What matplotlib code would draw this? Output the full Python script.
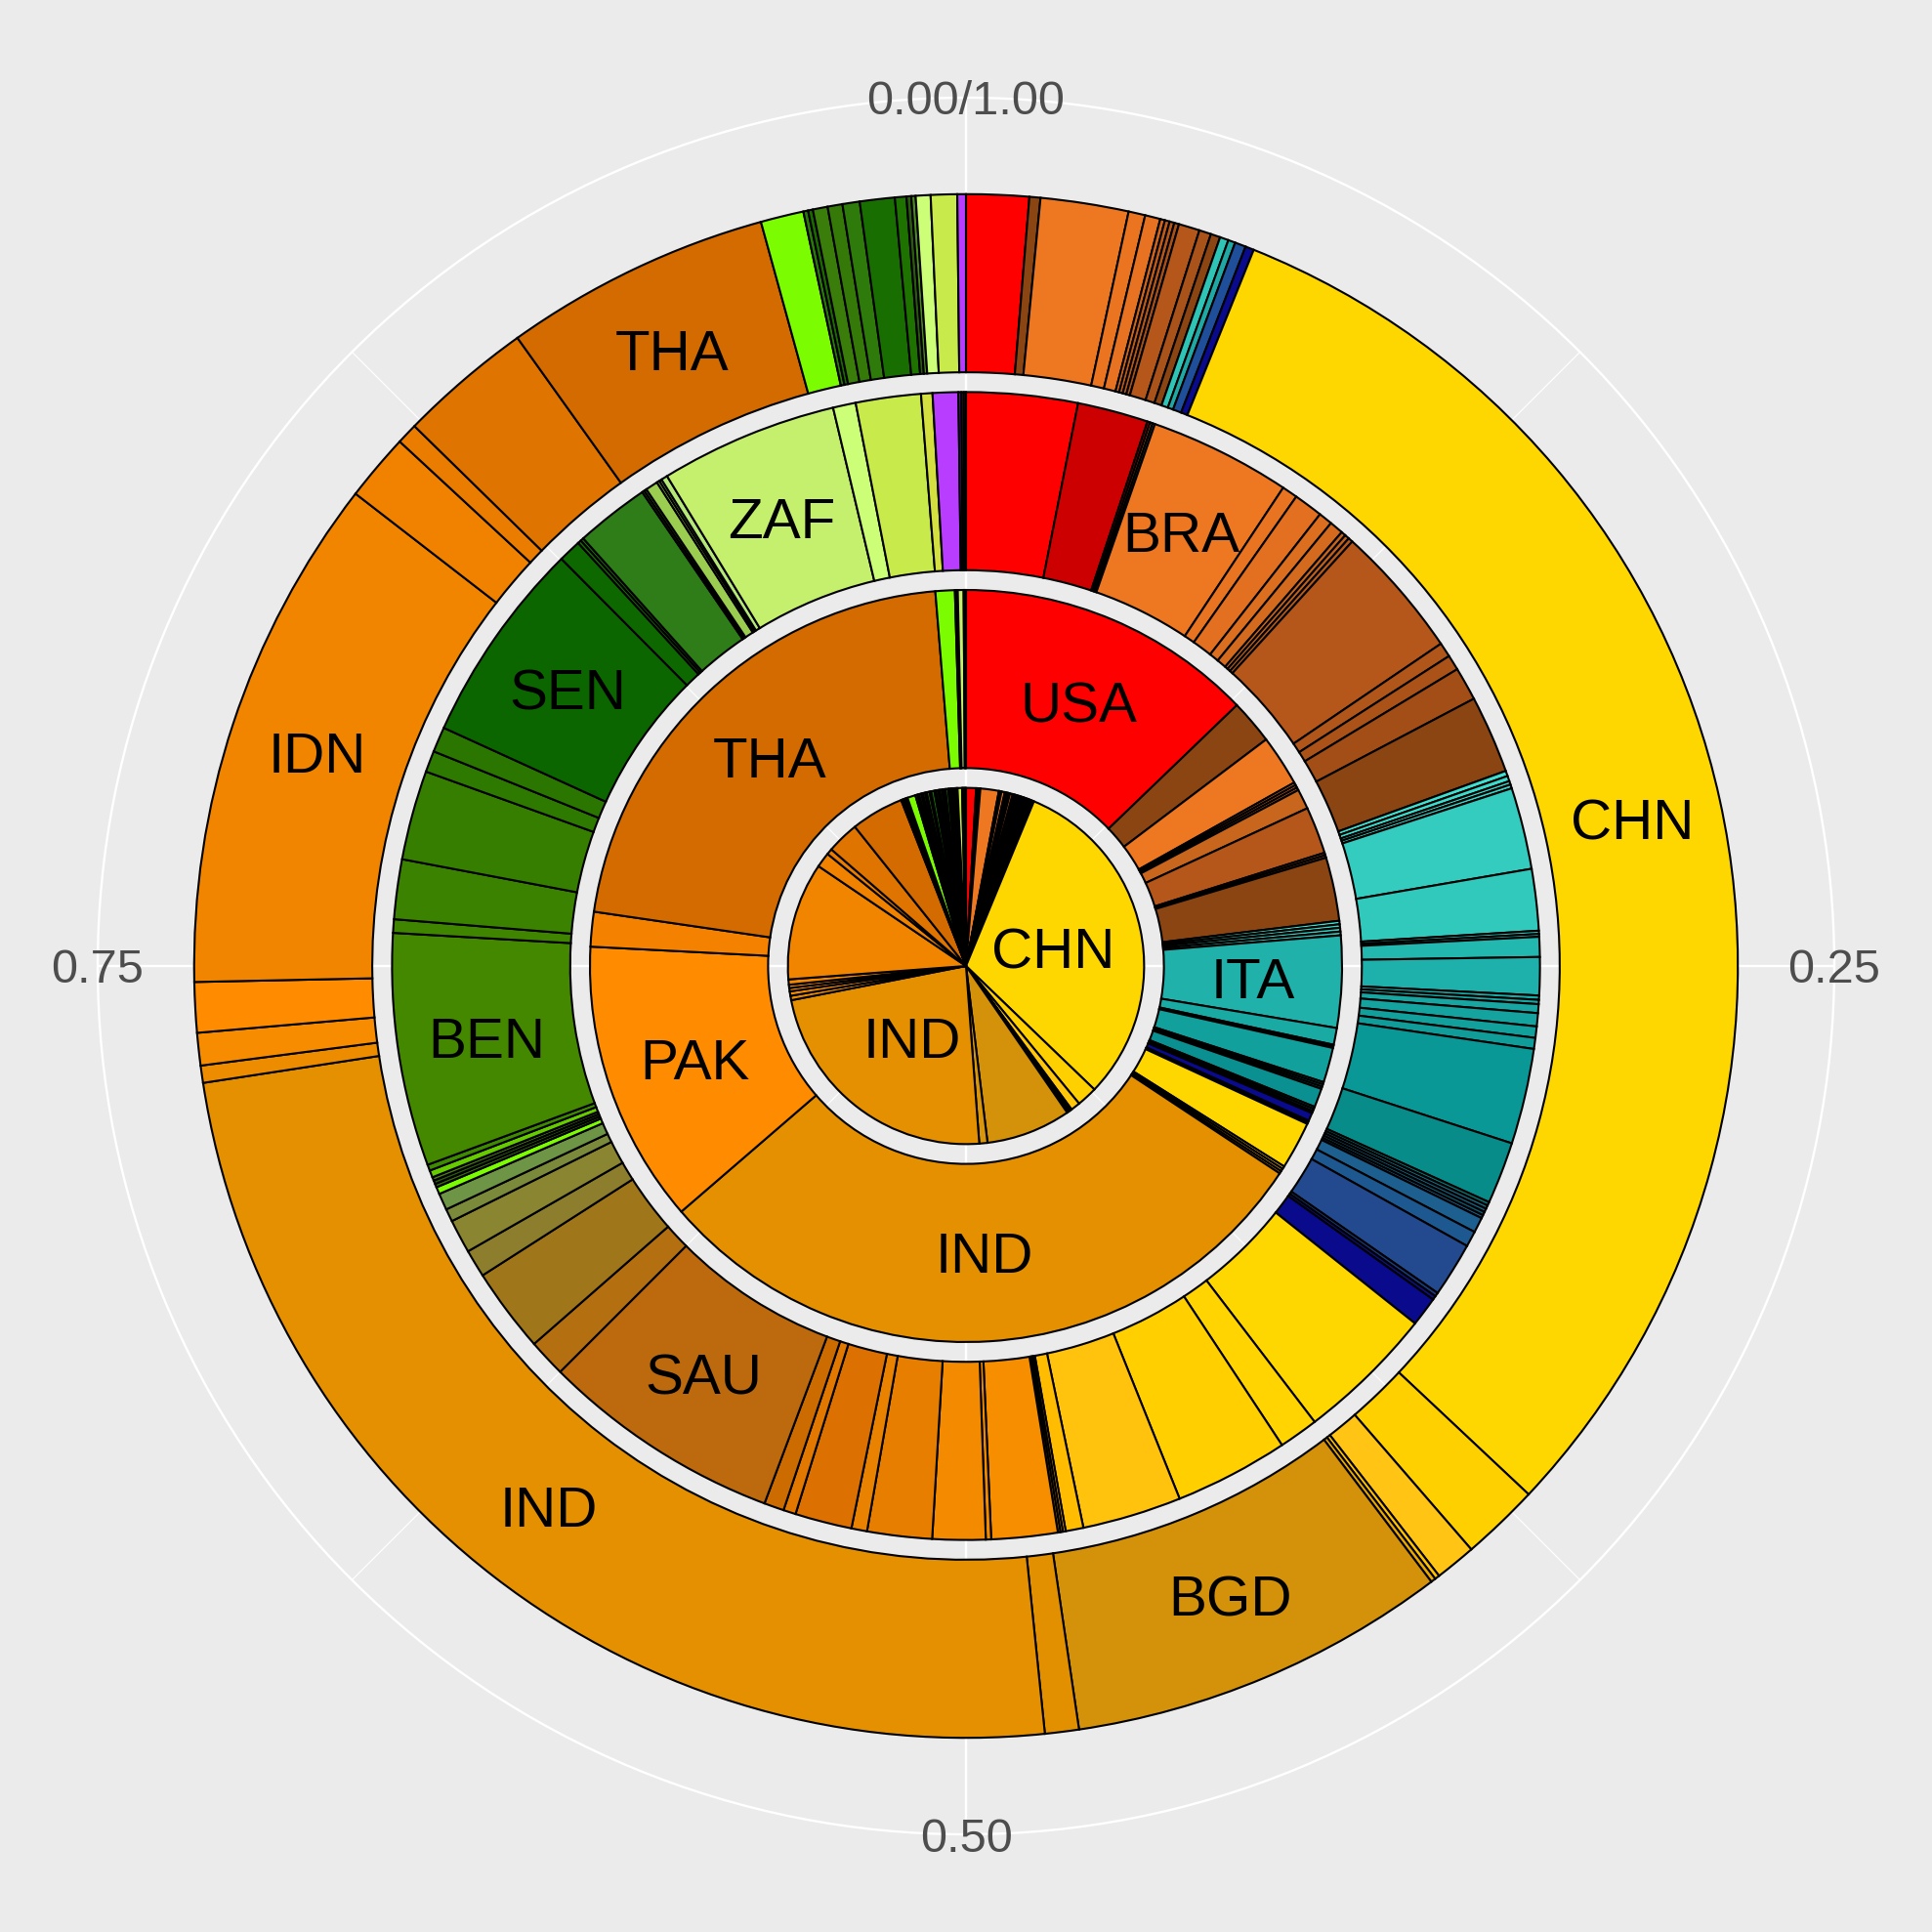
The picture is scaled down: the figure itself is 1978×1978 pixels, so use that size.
import numpy as np
import matplotlib
matplotlib.use("Agg")
import matplotlib.pyplot as plt

# ---------------------------------------------------------------- data
tick_values = [0.0, 0.25, 0.50, 0.75]
tick_labels = ["0.00/1.00", "0.25", "0.50", "0.75"]
minor_tick_values = [0.125, 0.375, 0.625, 0.875]

# ring 1 : centre pie
pie_share = [
    0.0091, 0.0013, 0.0012, 0.0013, 0.0167,
    0.0012, 0.0012, 0.0030, 0.0012, 0.0012, 0.0012, 0.0012, 0.0025,
    0.0012, 0.0012, 0.0012, 0.0012, 0.0012, 0.0012, 0.0012,
    0.0012, 0.0012, 0.0012, 0.0012, 0.0012, 0.0012, 0.0012,
    0.0016, 0.0016,
    0.3096, 0.0186, 0.0085, 0.0013, 0.0012, 0.0012, 0.0012,
    0.0768, 0.0074, 0.2311,
    0.0040, 0.0040, 0.0030, 0.0030, 0.0048,
    0.1067, 0.0136, 0.0053, 0.0292, 0.0479,
    0.0015, 0.0015, 0.0015, 0.0015, 0.0074,
    0.0020, 0.0015, 0.0020, 0.0015, 0.0020, 0.0015, 0.0025, 0.0015, 0.0030, 0.0015,
    0.0020, 0.0015, 0.0020, 0.0015, 0.0015, 0.0025, 0.0015, 0.0015, 0.0015, 0.0014,
    0.0012, 0.0012, 0.0041, 0.0012, 0.0012, 0.0011,
]
pie_color = [
    "#FF0000", "#CC0000", "#8B0000", "#8B4513", "#EE7722",
    "#D06020", "#C05A18", "#E87020", "#B5571A", "#A85018", "#9A4A16", "#8B4513", "#C06020",
    "#40E0D0", "#33CCBF", "#20B2AA", "#1AA8A2", "#12A09C", "#0A9896", "#088C8A",
    "#1D5F8F", "#234A8F", "#0A0A8C", "#1E5890", "#0A9090", "#18A8A3", "#0E9C98",
    "#2EC4B6", "#0A8F8C",
    "#FFD700", "#FFD000", "#FFC60A", "#FFC000", "#FFB800", "#F0A800", "#E0A000",
    "#D4920A", "#DA960A", "#E59000",
    "#EE8C00", "#F88C00", "#FF8C00", "#F68800", "#F48600",
    "#F28500", "#F08200", "#EA7C00", "#E07400", "#D46B00",
    "#B06010", "#806020", "#405A10", "#2A5A10", "#7CFC00",
    "#3A7D0A", "#357A08", "#2E7A0A", "#448800", "#3F8500", "#3A8200", "#357E00", "#0B6600", "#167000", "#2E7D18",
    "#0D6800", "#2A7600", "#1E7200", "#6E9445", "#8C7E2C", "#1A6A00", "#0B6600", "#2E7D18", "#9ACD50", "#1A6A00",
    "#9ACD50", "#80B040", "#C8EB4B", "#CCFF77", "#B83DFF", "#D4E040",
]
pie_labels = {29: "CHN", 38: "IND"}

# ring 2
ring2_share = [
    0.1280, 0.0191, 0.0218,
    0.0012, 0.0012, 0.0012, 0.0086,
    0.0202, 0.0011, 0.0011, 0.0273,
    0.0015, 0.0015, 0.0016, 0.0016,
    0.0394, 0.0072, 0.0007, 0.0007, 0.0150,
    0.0010, 0.0010, 0.0010, 0.0081,
    0.0010, 0.0010, 0.0009, 0.0035,
    0.0008, 0.0007, 0.0205,
    0.0012, 0.0012, 0.0011,
    0.2937, 0.1215, 0.0149, 0.2139,
    0.0083, 0.0006, 0.0006, 0.0025, 0.0005, 0.0005,
]
ring2_color = [
    "#FF0000", "#8B4513", "#EE7722",
    "#E06A20", "#D06020", "#C85C1C", "#C9661E",
    "#B5571A", "#A04E16", "#964A15", "#8B4513",
    "#40E0D0", "#38D8C8", "#33CCBF", "#2EC4B6",
    "#20B2AA", "#1AAAA4", "#16A4A0", "#14A29E", "#12A09C",
    "#0E9894", "#0A9490", "#0A9290", "#0A9090",
    "#087878", "#1D5F8F", "#234A8F", "#0A0A8C",
    "#101060", "#FFD000", "#FFD700",
    "#FFC000", "#D4920A", "#E08C00",
    "#E59000", "#FF8C00", "#F48200", "#D46B00",
    "#7CFC00", "#2A7A0A", "#0B6600", "#C8F06E", "#333333", "#B83DFF",
]
ring2_labels = {0: "USA", 15: "ITA", 34: "IND", 35: "PAK", 37: "THA"}

# ring 3
ring3_share = [
    0.0313, 0.0199, 0.0008, 0.0007, 0.0007,
    0.0398, 0.0044, 0.0082, 0.0039, 0.0039, 0.0013, 0.0013, 0.0013,
    0.0376, 0.0041, 0.0043, 0.0094, 0.0219,
    0.0015, 0.0015, 0.0010, 0.0011, 0.0230, 0.0173, 0.0009, 0.0008,
    0.0056, 0.0107, 0.0012, 0.0012, 0.0025, 0.0037, 0.0032, 0.0031,
    0.0269, 0.0175, 0.0010, 0.0010, 0.0010, 0.0010, 0.0009,
    0.0043, 0.0044, 0.0154, 0.0011, 0.0011, 0.0083,
    0.0391, 0.0111, 0.0321, 0.0279, 0.0050, 0.0008, 0.0007, 0.0007,
    0.0186, 0.0015, 0.0149, 0.0182, 0.0044, 0.0160, 0.0035, 0.0056,
    0.0679, 0.0106, 0.0238, 0.0078, 0.0095, 0.0036, 0.0047,
    0.0020, 0.0010, 0.0010, 0.0010, 0.0020, 0.0017,
    0.0655, 0.0038, 0.0168, 0.0252, 0.0060, 0.0071,
    0.0574, 0.0064, 0.0010, 0.0009, 0.0208, 0.0007, 0.0007, 0.0035, 0.0008, 0.0007, 0.0018,
    0.0500, 0.0064, 0.0183, 0.0032, 0.0072, 0.0008, 0.0007, 0.0006,
]
ring3_color = [
    "#FF0000", "#CC0000", "#8B0000", "#EE7722", "#444444",
    "#EE7722", "#E87422", "#E27020", "#DC6E20", "#D46A1E", "#C8641C", "#C0601C", "#B85A1A",
    "#B5571A", "#B0561A", "#AA5218", "#A24E16", "#8B4513",
    "#40E0D0", "#3CDCCC", "#38D8C8", "#36D2C4", "#33CCBF", "#31C9BC", "#2AC0B5", "#26BCB2",
    "#22B8B0", "#1EB0AA", "#1AACA6", "#18A8A3", "#17A6A1", "#15A3A0", "#12A09C", "#109C98",
    "#0A9896", "#088C8A", "#087878", "#1A6A80", "#166080", "#0E5A70", "#1D5F8F",
    "#1D5F8F", "#1E5890", "#234A8F", "#1A3A80", "#101080", "#0A0A8C",
    "#FFD700", "#FFD400", "#FFCF00", "#FFC30D", "#FFBC00", "#F0A000", "#E89000", "#E08800",
    "#F68E00", "#F08800", "#F38A00", "#E87E00", "#E88200", "#DC7000", "#E27800", "#CC6C00",
    "#BD6A0E", "#B47010", "#A0761A", "#8C7E2C", "#898530", "#7A8A3A", "#6E9445",
    "#7CFC00", "#3A6A10", "#2A5A0A", "#4A7A1A", "#66CC00", "#3E8A00",
    "#448800", "#3F8500", "#3A8200", "#357E00", "#2E7A00", "#2A7600",
    "#0B6600", "#0D6800", "#1A6E08", "#226F10", "#2E7D18", "#2A5A10", "#4A8A20", "#9ACD50", "#80B040", "#A0D060", "#B5E878",
    "#C4F06E", "#CCFF77", "#C8EB4B", "#D4E040", "#B83DFF", "#7A20B0", "#333333", "#FF0000",
]
ring3_labels = {5: "BRA", 63: "SAU", 76: "BEN", 82: "SEN", 93: "ZAF"}

# ring 4 : outer
ring4_share = [
    0.0131, 0.0023, 0.0184, 0.0035, 0.0032,
    0.0010, 0.0010, 0.0010, 0.0010,
    0.0044, 0.0025, 0.0020, 0.0018, 0.0015, 0.0023, 0.0018,
    0.3092, 0.0164, 0.0086, 0.0010, 0.0010,
    0.0796, 0.0071, 0.2421, 0.0036, 0.0068, 0.0105,
    0.1081, 0.0141, 0.0044, 0.0280, 0.0559,
    0.0090, 0.0010, 0.0010, 0.0031, 0.0031, 0.0036, 0.0073, 0.0024,
    0.0010, 0.0009, 0.0031, 0.0055, 0.0018,
]
ring4_color = [
    "#FF0000", "#8B4513", "#EE7722", "#EA7420", "#E67222",
    "#D0641C", "#C05A18", "#B5571A", "#A85018",
    "#B5571A", "#A9521A", "#8B4513", "#2EC4B6", "#1FA8A4", "#1F4E9A", "#0A0A8C",
    "#FFD700", "#FFD000", "#FFC414", "#FFC000", "#E8A800",
    "#D4920A", "#E29000", "#E59000", "#EE8C00", "#F88C00", "#FF8C00",
    "#F28500", "#F08200", "#EA7C00", "#E07400", "#D46B00",
    "#7CFC00", "#2A7A0A", "#1A6A00", "#3A7D0A", "#357A08", "#2E7A0A", "#186E00", "#1E7200",
    "#2A5A10", "#4A8A20", "#CCFF77", "#C8EB4B", "#B83DFF",
]
ring4_labels = {16: "CHN", 21: "BGD", 23: "IND", 27: "IDN", 31: "THA"}

rings = [
    (pie_share, pie_color, pie_labels),
    (ring2_share, ring2_color, ring2_labels),
    (ring3_share, ring3_color, ring3_labels),
    (ring4_share, ring4_color, ring4_labels),
]

# ---------------------------------------------------------------- style
BG = "#EBEBEB"
RING_HEIGHT = 0.9
R_OUTER = 3.9
R_PANEL = R_OUTER * 0.45 / 0.4
FONT = ["Liberation Sans", "DejaVu Sans"]

fig = plt.figure(figsize=(19.78, 19.78), dpi=100, facecolor=BG)
frac = 889.0 / 1978.0
ax = fig.add_axes([0.5 - frac, 0.5 - frac, 2 * frac, 2 * frac], projection="polar")
ax.set_facecolor(BG)
ax.set_theta_zero_location("N")
ax.set_theta_direction(-1)
ax.set_ylim(0, R_PANEL)
ax.set_yticks([])
ax.set_xticks(2 * np.pi * np.array(tick_values))
ax.set_xticklabels([])
ax.set_xticks(2 * np.pi * np.array(minor_tick_values), minor=True)
ax.tick_params(axis="x", which="both", length=0)
ax.xaxis.grid(True, which="major", color="white", linewidth=1.7)
ax.xaxis.grid(True, which="minor", color="white", linewidth=0.85)
ax.set_axisbelow(True)
ax.spines["polar"].set_color("white")
ax.spines["polar"].set_linewidth(1.7)

for k, (share, color, labels) in enumerate(rings):
    share = np.asarray(share, dtype=float)
    total = share.sum()
    widths = 2 * np.pi * share / total
    starts = np.concatenate([[0.0], np.cumsum(widths)[:-1]])
    ax.bar(starts, RING_HEIGHT, width=widths, bottom=float(k), align="edge",
           color=color, edgecolor="black", linewidth=1.5, zorder=3)
    for idx, txt in labels.items():
        ax.text(starts[idx] + widths[idx] / 2, k + RING_HEIGHT / 2,
                txt, ha="center", va="center_baseline", fontsize=42,
                family=FONT, color="black", zorder=5)

for v, lab in zip(tick_values, tick_labels):
    ax.text(2 * np.pi * v, R_PANEL, lab, ha="center", va="center_baseline",
            fontsize=35, family=FONT, color="#4D4D4D", zorder=6, clip_on=False)

fig.savefig("out.png", dpi=100, facecolor=BG)
